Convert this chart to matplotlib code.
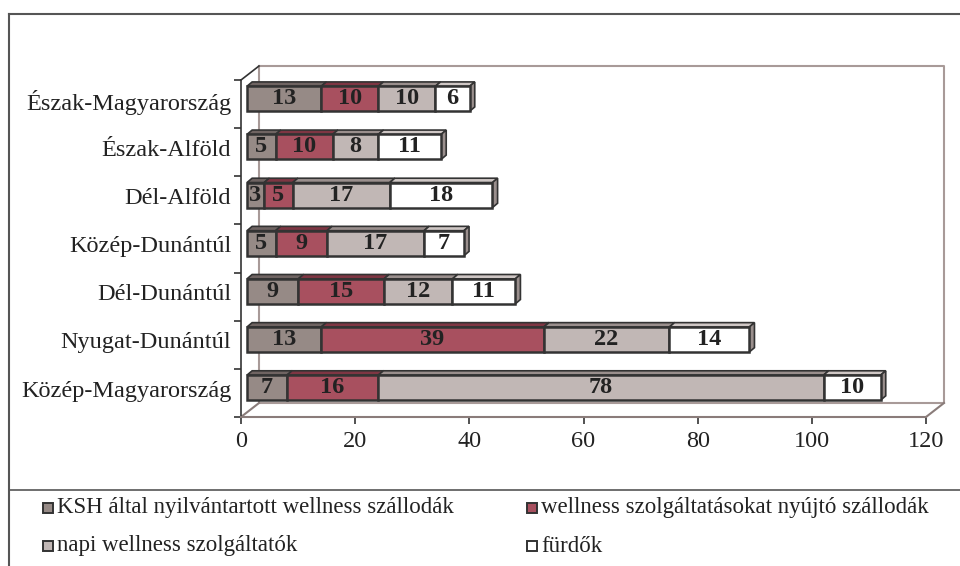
import matplotlib
matplotlib.use('Agg')
from matplotlib import pyplot as plt
from matplotlib.patches import Polygon, Rectangle
from matplotlib.lines import Line2D
import numpy as np

plt.rcParams['font.family'] = ['Liberation Serif', 'DejaVu Serif']

regions = ['Közép-Magyarország', 'Nyugat-Dunántúl', 'Dél-Dunántúl', 'Közép-Dunántúl',
           'Dél-Alföld', 'Észak-Alföld', 'Észak-Magyarország']
series_names = ['KSH által nyilvántartott wellness szállodák',
                'wellness szolgáltatásokat nyújtó szállodák',
                'napi wellness szolgáltatók',
                'fürdők']
ksh = [7, 13, 9, 5, 3, 5, 13]
wellness_hotels = [16, 39, 15, 9, 5, 10, 10]
napi = [78, 22, 12, 17, 17, 8, 10]
furdok = [10, 14, 11, 7, 18, 11, 6]
xticks = [0, 20, 40, 60, 80, 100, 120]

front_colors = ['#968a86', '#a8505f', '#c1b7b5', '#ffffff']
top_colors = ['#6f6462', '#7e3643', '#9a8f8d', '#cfc7c5']
side_colors = ['#5e5452', '#6a2c38', '#8a7f7d', '#9a8f8d']

W, H = 960, 566
fig = plt.figure(figsize=(W / 100, H / 100), dpi=100)
ax = fig.add_axes([241 / W, (H - 417) / H, 685 / W, 337 / H])
ax.set_xlim(0, 120)
ax.set_ylim(-0.5, 6.5)

# depth of the 3d box, in data units
DX = 18 * 120 / 685
DY = 14 * 7 / 337
wall = '#a89a98'
floor = '#8a7c7a'

# back wall, left wall and floor
ax.plot([DX, 120 + DX, 120 + DX, DX, DX], [6.5 + DY, 6.5 + DY, -0.5 + DY, -0.5 + DY, 6.5 + DY],
        color=wall, lw=1.5, clip_on=False, zorder=1)
ax.plot([0, DX], [6.5, 6.5 + DY], color='#333333', lw=1.2, clip_on=False, zorder=1)
ax.plot([0, DX], [-0.5, -0.5 + DY], color=floor, lw=1.5, clip_on=False, zorder=1)
ax.plot([120, 120 + DX], [-0.5, -0.5 + DY], color=floor, lw=1.5, clip_on=False, zorder=1)

# bars
y = np.arange(len(regions))
ox, oy = 1.05, 0.11
h = 0.52
bdx, bdy = 0.9, 0.09
data = [ksh, wellness_hotels, napi, furdok]
lefts = np.zeros(len(regions))
for j, vals in enumerate(data):
    vals = np.array(vals, dtype=float)
    for i in range(len(regions)):
        x0 = lefts[i] + ox
        x1 = x0 + vals[i]
        yt = y[i] + oy + h / 2
        top = Polygon([(x0, yt), (x1, yt), (x1 + bdx, yt + bdy), (x0 + bdx, yt + bdy)],
                      closed=True, facecolor=top_colors[j], edgecolor='#333333', lw=1.2,
                      clip_on=False, zorder=3)
        ax.add_patch(top)
        if j == len(data) - 1:
            yb = y[i] + oy - h / 2
            side = Polygon([(x1, yb), (x1, yt), (x1 + bdx, yt + bdy), (x1 + bdx, yb + bdy)],
                           closed=True, facecolor=side_colors[j], edgecolor='#333333', lw=1.2,
                           clip_on=False, zorder=3)
            ax.add_patch(side)
    ax.barh(y + oy, vals, left=lefts + ox, height=h, color=front_colors[j],
            edgecolor='#333333', linewidth=1.8, zorder=4)
    for i in range(len(regions)):
        ax.text(lefts[i] + ox + vals[i] / 2, y[i] + oy, f'{int(vals[i])}', ha='center',
                va='center', fontsize=17.5, fontweight='bold', color='#222222', zorder=5)
    lefts += vals

# axes
for s in ['top', 'right']:
    ax.spines[s].set_visible(False)
ax.spines['left'].set_color('#333333')
ax.spines['left'].set_linewidth(1.2)
ax.spines['bottom'].set_color(floor)
ax.spines['bottom'].set_linewidth(1.5)
ax.set_xticks(xticks)
ax.set_xticklabels([str(t) for t in xticks], fontsize=17.5, color='#222222')
ax.tick_params(axis='x', direction='out', length=5, width=1.2, color='#333333', pad=5)
ax.set_yticks(y + 0.09)
ax.set_yticklabels(regions, fontsize=17.5, color='#222222')
ax.tick_params(axis='y', length=0, pad=7)
ax.set_yticks(np.arange(-0.5, 7, 1), minor=True)
ax.tick_params(axis='y', which='minor', direction='out', length=5, width=1.2, color='#333333')
ax.patch.set_visible(False)

# outer frame
frame = '#555555'
fig.add_artist(Line2D([9 / W, 9 / W], [0, (H - 14) / H], color=frame, lw=1.5))
fig.add_artist(Line2D([9 / W, 1], [(H - 14) / H, (H - 14) / H], color=frame, lw=1.5))
fig.add_artist(Line2D([9 / W, 1], [(H - 490) / H, (H - 490) / H], color=frame, lw=1.2))

# legend
col_x = [43, 527]
row_y = [508, 546]
for k, name in enumerate(series_names):
    cx = col_x[k % 2]
    cy = row_y[k // 2]
    fig.add_artist(Rectangle((cx / W, (H - cy - 5) / H), 10 / W, 10 / H,
                             facecolor=front_colors[k], edgecolor='#333333', lw=1.4,
                             transform=fig.transFigure))
    fig.text((cx + 14) / W, (H - cy) / H, name, fontsize=16.5, color='#222222',
             ha='left', va='center')

fig.savefig('out.png', dpi=100)
